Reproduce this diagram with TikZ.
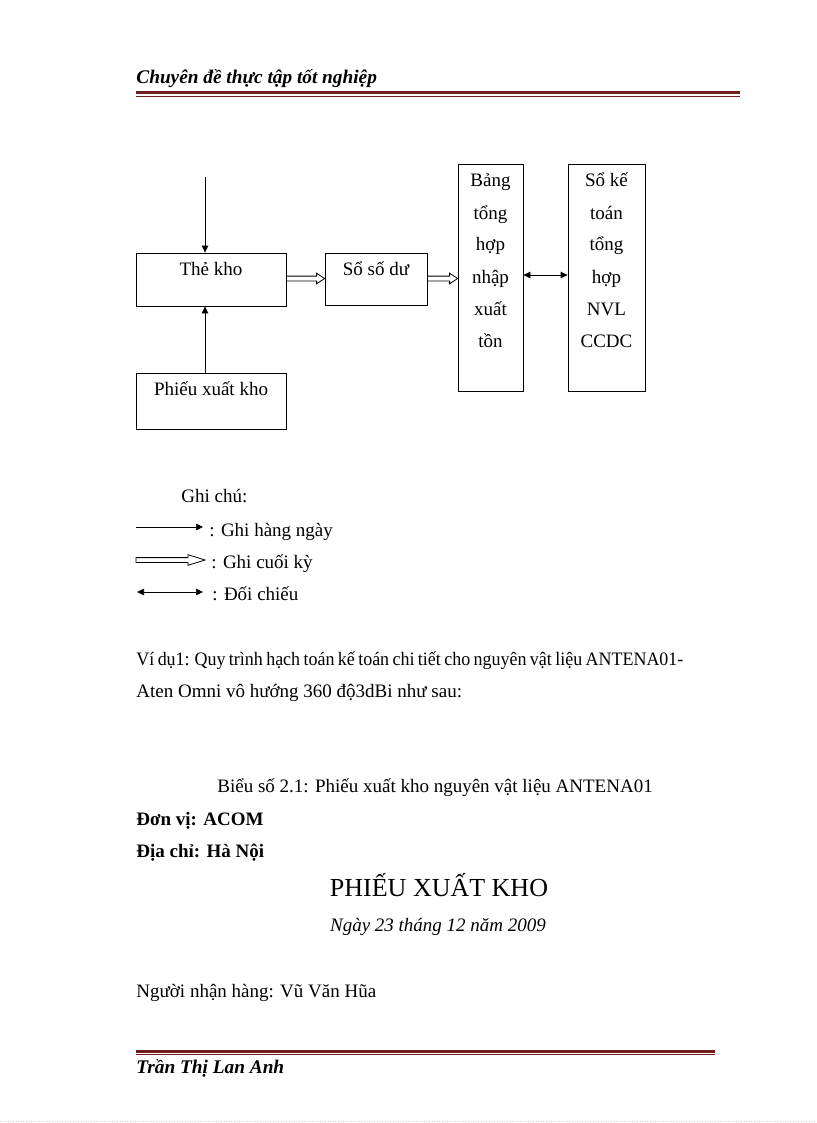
\documentclass[tikz,border=0pt]{standalone}
\usepackage{fontspec}
\setmainfont{Liberation Serif}
\usetikzlibrary{arrows.meta,calc}
\definecolor{rulecol}{RGB}{110,30,30}
\definecolor{dotcol}{RGB}{200,215,200}
\begin{document}
\begin{tikzpicture}[x=1pt,y=-1pt,line width=0.8pt,
  txt/.style={inner sep=0pt,anchor=base west,font=\fontsize{19}{22}\selectfont},
  ctxt/.style={txt,anchor=base},
  hf/.style={font=\fontsize{19.3}{22}\selectfont\bfseries\itshape},
  bld/.style={font=\fontsize{19}{22}\selectfont\bfseries},
  box/.style={draw,inner sep=0pt},
  arr/.style={-{Triangle[length=7pt,width=6.5pt]}},
  darr/.style={{Triangle[length=7pt,width=6.5pt]}-{Triangle[length=7pt,width=6.5pt]}},
  hollow/.style={line width=0.7pt,to path={
    ($(\tikztostart)+(0,2.4)$) -- ($(\tikztotarget)+(-#1,2.4)$) -- ($(\tikztotarget)+(-#1,5.3)$)
    -- (\tikztotarget) -- ($(\tikztotarget)+(-#1,-5.3)$) -- ($(\tikztotarget)+(-#1,-2.4)$)
    -- ($(\tikztostart)+(0,-2.4)$) -- cycle}},
  hollow/.default=8,
  rulethick/.style={fill=rulecol,draw=none},
  rulethin/.style={draw=rulecol,line width=1pt}]
\useasboundingbox (0,0) rectangle (816,1123);
% header
\node[txt,hf] (hdr) at (136,84) {Chuyên đề thực tập tốt nghiệp};
\fill[rulethick] (136,91.5) rectangle (740,94.5);
\draw[rulethin] (136,96.2) -- (740,96.2);
% diagram boxes
\node[box,minimum width=150,minimum height=53] (thekho) at (211,279.5) {};
\node[ctxt] (thekhot) at (211,275) {Thẻ kho};
\node[box,minimum width=102,minimum height=52] (sodu) at (376,279) {};
\node[ctxt] (sodut) at (376,275) {Sổ số dư};
\node[box,minimum width=150,minimum height=56] (phieu) at (211,401) {};
\node[ctxt] (phieut) at (211,395) {Phiếu xuất kho};
\node[box,minimum width=65,minimum height=227] (bang) at (490.5,277.5) {};
\node[ctxt] (b1) at (490.5,187) {Bảng};
\node[ctxt] (b2) at (490.5,219) {tổng};
\node[ctxt] (b3) at (490.5,251) {hợp};
\node[ctxt] (b4) at (490.5,283) {nhập};
\node[ctxt] (b5) at (490.5,315) {xuất};
\node[ctxt] (b6) at (490.5,347) {tồn};
\node[box,minimum width=77,minimum height=227] (soke) at (606.5,277.5) {};
\node[ctxt] (s1) at (606.5,187) {Sổ kế};
\node[ctxt] (s2) at (606.5,219) {toán};
\node[ctxt] (s3) at (606.5,251) {tổng};
\node[ctxt] (s4) at (606.5,283) {hợp};
\node[ctxt] (s5) at (606.5,315) {NVL};
\node[ctxt] (s6) at (606.5,347) {CCDC};
% connectors
\coordinate (topin) at (205,177);
\draw[arr] (topin) -- (topin |- thekho.north);
\coordinate (upx) at (205,0);
\draw[arr] (upx |- phieu.north) -- (upx |- thekho.south);
\coordinate (hl) at (0,278.5);
\coordinate (h1s) at (hl -| thekho.east);
\coordinate (h1t) at (hl -| sodu.west);
\draw (h1s) to[hollow] (h1t);
\coordinate (h2s) at (hl -| sodu.east);
\coordinate (h2t) at (hl -| bang.west);
\draw (h2s) to[hollow] (h2t);
\coordinate (cmp) at (0,275);
\draw[darr] (cmp -| bang.east) -- (cmp -| soke.west);
% legend
\node[txt] (gc) at (181,502) {Ghi chú:};
\coordinate (l1a) at (136,527); \coordinate (l1b) at (203,527);
\draw[arr,line width=0.7pt] (l1a) -- (l1b);
\node[txt] (g1) at (209,536) {: Ghi hàng ngày};
\coordinate (l2a) at (136,560); \coordinate (l2b) at (205,560);
\draw (l2a) to[hollow=17] (l2b);
\node[txt] (g2) at (211,568) {: Ghi cuối kỳ};
\coordinate (l3a) at (137,592); \coordinate (l3b) at (203,592);
\draw[darr,line width=0.7pt] (l3a) -- (l3b);
\node[txt] (g3) at (212,600) {: Đối chiếu};
% text
\node[txt] (vd1) at (136,665) {\spaceskip=3.6pt\relax\resizebox{547pt}{\height}{Ví dụ1: Quy trình hạch toán kế toán chi tiết cho nguyên vật liệu ANTENA01-}};
\node[txt] (vd2) at (136,697) {Aten Omni vô hướng 360 độ3dBi như sau:};
\node[txt] (bieu) at (217,792) {Biểu số 2.1: Phiếu xuất kho nguyên vật liệu ANTENA01};
\node[txt,bld] (donvi) at (136,825) {Đơn vị: ACOM};
\node[txt,bld] (diachi) at (136,857) {Địa chỉ: Hà Nội};
\node[ctxt,font=\fontsize{26}{30}\selectfont] (title) at (439,896) {PHIẾU XUẤT KHO};
\node[ctxt,font=\fontsize{19}{22}\selectfont\itshape] (ngay) at (438,931) {Ngày 23 tháng 12 năm 2009};
\node[txt] (nguoi) at (136,997) {Người nhận hàng: Vũ Văn Hũa};
% footer
\fill[rulethick] (136,1049.5) rectangle (715,1052.5);
\draw[rulethin] (136,1054.2) -- (715,1054.2);
\node[txt,hf] (ftr) at (136,1073) {Trần Thị Lan Anh};
\draw[dotcol,line width=0.6pt,dotted] (0,1121.5) -- (816,1121.5);
\end{tikzpicture}
\end{document}
